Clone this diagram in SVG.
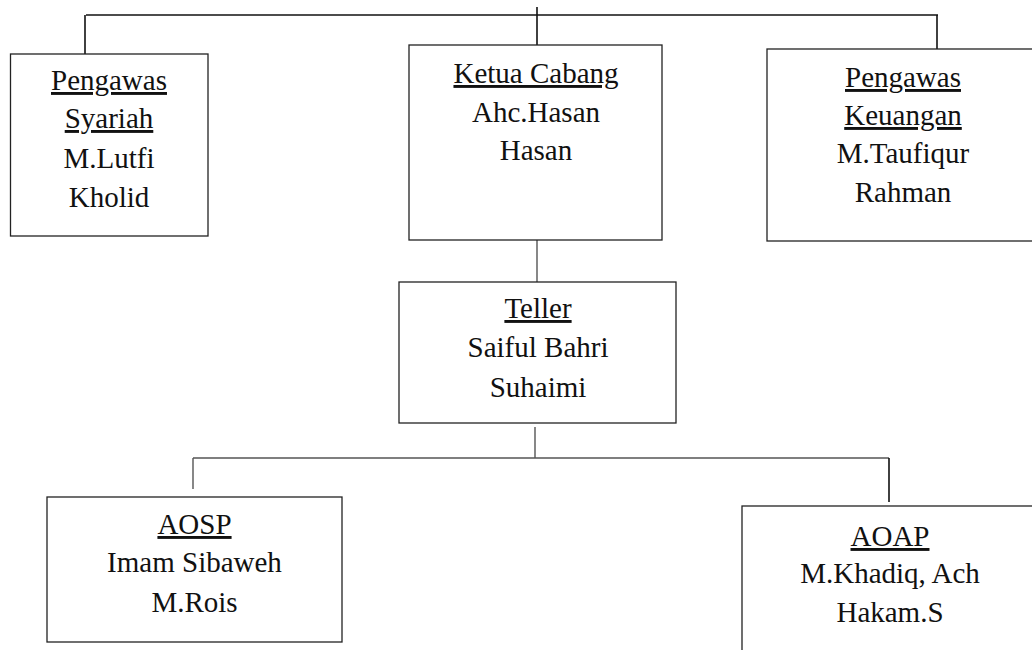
<svg xmlns="http://www.w3.org/2000/svg" width="1032" height="650" viewBox="0 0 1032 650">
<style>
.box{fill:#fff;stroke:#222;stroke-width:1.3}
.t{font-family:"Liberation Serif","Times New Roman",serif;font-size:29px;fill:#111;text-anchor:middle}
.u{text-decoration:underline}
.c1{stroke:#111;stroke-width:1.6;fill:none}
.c2{stroke:#555;stroke-width:1.4;fill:none}
</style>
<rect width="1032" height="650" fill="#fff"/>
<g id="connectors">
<path class="c1" d="M86 15H938"/>
<path class="c1" d="M537 7V45"/>
<path class="c1" d="M85 15V54"/>
<path class="c1" d="M937 15V49"/>
<path class="c2" d="M537 240V282"/>
<path class="c2" d="M535 427V458"/>
<path class="c2" d="M193 458H889"/>
<path class="c2" d="M193 458V489"/>
<path class="c1" d="M889 458V502"/>
</g>
<g id="pengawas-syariah">
<rect class="box" x="10.5" y="54" width="197.5" height="182"/>
<text class="t" x="109" y="90"><tspan class="u">Pengawas</tspan></text>
<text class="t" x="109" y="128"><tspan class="u">Syariah</tspan></text>
<text class="t" x="109" y="168">M.Lutfi</text>
<text class="t" x="109" y="207">Kholid</text>
</g>
<g id="ketua-cabang">
<rect class="box" x="409" y="45" width="253" height="195"/>
<text class="t" x="536" y="83"><tspan class="u">Ketua Cabang</tspan></text>
<text class="t" x="536" y="122">Ahc.Hasan</text>
<text class="t" x="536" y="160">Hasan</text>
</g>
<g id="pengawas-keuangan">
<rect class="box" x="767" y="49" width="275" height="192"/>
<text class="t" x="903" y="87"><tspan class="u">Pengawas</tspan></text>
<text class="t" x="903" y="125"><tspan class="u">Keuangan</tspan></text>
<text class="t" x="903" y="163">M.Taufiqur</text>
<text class="t" x="903" y="202">Rahman</text>
</g>
<g id="teller">
<rect class="box" x="399" y="282" width="277" height="141"/>
<text class="t" x="538" y="318"><tspan class="u">Teller</tspan></text>
<text class="t" x="538" y="357">Saiful Bahri</text>
<text class="t" x="538" y="397">Suhaimi</text>
</g>
<g id="aosp">
<rect class="box" x="47" y="497" width="295" height="145"/>
<text class="t" x="194.5" y="534"><tspan class="u">AOSP</tspan></text>
<text class="t" x="194.5" y="572">Imam Sibaweh</text>
<text class="t" x="194.5" y="612">M.Rois</text>
</g>
<g id="aoap">
<rect class="box" x="742" y="506" width="300" height="160"/>
<text class="t" x="890" y="546"><tspan class="u">AOAP</tspan></text>
<text class="t" x="890" y="583">M.Khadiq, Ach</text>
<text class="t" x="890" y="622">Hakam.S</text>
</g>
</svg>
